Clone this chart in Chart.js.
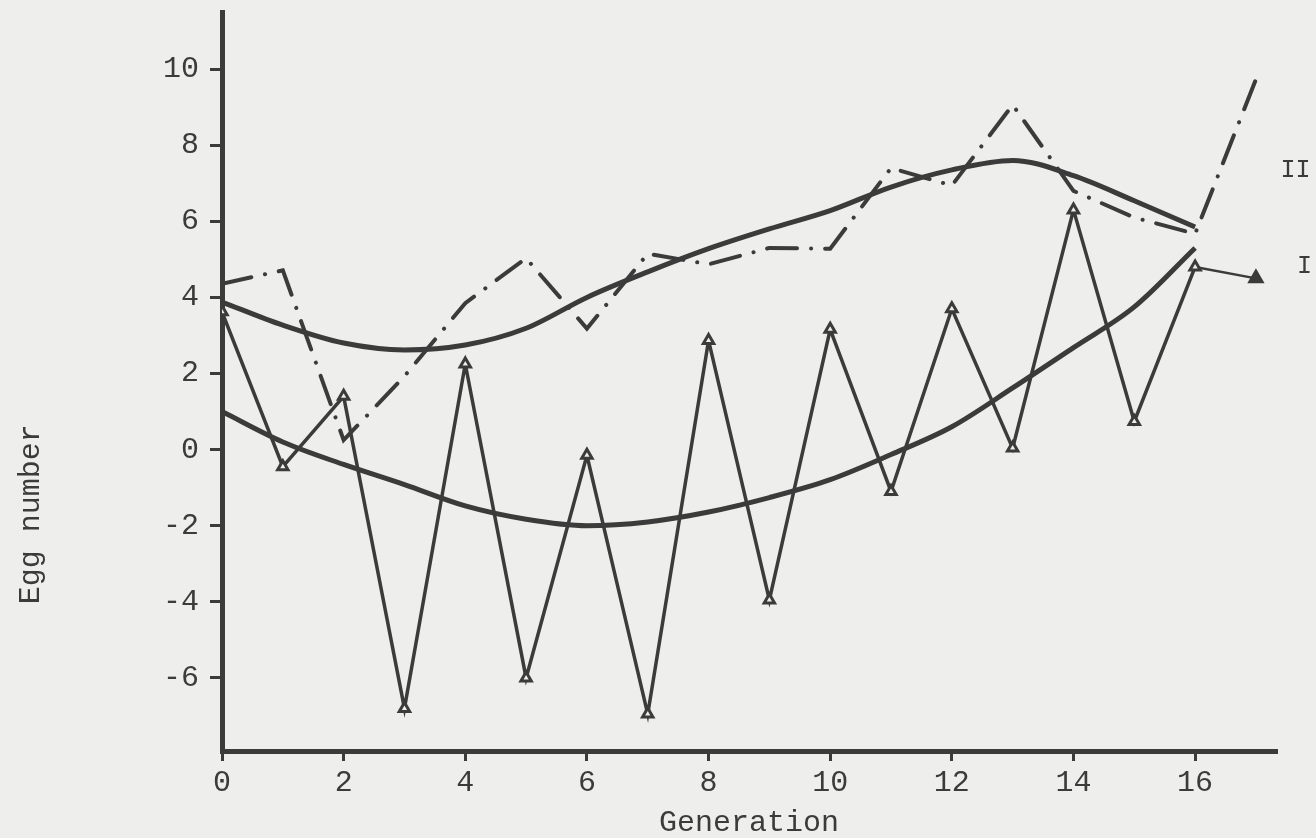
<!DOCTYPE html>
<html>
<head>
<meta charset="utf-8">
<script src="https://cdn.jsdelivr.net/npm/chart.js@4"></script>
<style>
  html, body { margin: 0; padding: 0; background: #eeeeec; }
  #wrap { width: 1316px; height: 838px; position: relative; }
</style>
</head>
<body>
<div id="wrap"><canvas id="chart" width="1316" height="838"></canvas></div>
<script>
// Generations on the x axis
const generations = [0, 1, 2, 3, 4, 5, 6, 7, 8, 9, 10, 11, 12, 13, 14, 15, 16];
const generationsII = [0, 1, 2, 3, 4, 5, 6, 7, 8, 9, 10, 11, 12, 13, 14, 15, 16, 17];

// Line I: observed egg numbers (open triangles)
const eggsI = [3.62, -0.45, 1.4, -6.8, 2.25, -6.0, -0.15, -6.95, 2.87, -3.95, 3.16, -1.1, 3.7, 0.04, 6.3, 0.74, 4.8];
// Line I: last generation (filled triangle)
const eggsIEndGens = [16, 17];
const eggsIEnd = [4.8, 4.5];

// Line II: observed egg numbers (dash-dot)
const eggsII = [4.36, 4.71, 0.25, 1.93, 3.85, 5.03, 3.18, 5.15, 4.87, 5.3, 5.28, 7.4, 6.94, 9.06, 6.8, 6.1, 5.67, 9.73];

// Fitted trends
const trendI = [1.0, 0.2, -0.39, -0.92, -1.48, -1.83, -2.0, -1.9, -1.64, -1.26, -0.79, -0.13, 0.6, 1.62, 2.68, 3.75, 5.3];
const trendII = [3.88, 3.27, 2.8, 2.62, 2.75, 3.19, 4.0, 4.67, 5.28, 5.8, 6.28, 6.9, 7.35, 7.6, 7.2, 6.54, 5.85];

// Tick labels
const xTickValues = [0, 2, 4, 6, 8, 10, 12, 14, 16];
const yTickValues = [-6, -4, -2, 0, 2, 4, 6, 8, 10];

// Line tags drawn at the right margin
const lineTags = [
  { text: 'II', gen: 17.65, value: 7.33 },
  { text: 'I', gen: 17.8, value: 4.82 }
];

const INK = '#3b3b3b';
const PAPER = '#eeeeec';
const FONT = "'Liberation Mono', 'DejaVu Sans Mono', monospace";

const pts = (xs, ys) => xs.map((x, i) => ({ x: x, y: ys[i] }));

const paperPlugin = {
  id: 'paper',
  beforeDraw(chart) {
    const ctx = chart.ctx;
    ctx.save();
    ctx.fillStyle = PAPER;
    ctx.fillRect(0, 0, chart.width, chart.height);
    ctx.restore();
  }
};

const textPlugin = {
  id: 'texts',
  afterDraw(chart) {
    const ctx = chart.ctx;
    const xs = chart.scales.x, ys = chart.scales.y;
    ctx.save();
    ctx.fillStyle = INK;
    ctx.textAlign = 'center';
    ctx.textBaseline = 'middle';
    ctx.font = '25px ' + FONT;
    lineTags.forEach(t => {
      ctx.fillText(t.text, xs.getPixelForValue(t.gen), ys.getPixelForValue(t.value));
    });
    // vertical axis title
    ctx.font = '30px ' + FONT;
    ctx.translate(31, ys.getPixelForValue(-1.7));
    ctx.rotate(-Math.PI / 2);
    ctx.fillText('Egg number', 0, 0);
    ctx.restore();
  }
};

new Chart(document.getElementById('chart'), {
  type: 'line',
  data: {
    datasets: [
      {
        label: 'Trend I',
        data: pts(generations, trendI),
        borderColor: INK,
        borderWidth: 5,
        pointRadius: 0,
        cubicInterpolationMode: 'monotone',
        fill: false
      },
      {
        label: 'Trend II',
        data: pts(generations, trendII),
        borderColor: INK,
        borderWidth: 5,
        pointRadius: 0,
        cubicInterpolationMode: 'monotone',
        fill: false
      },
      {
        label: 'II',
        data: pts(generationsII, eggsII),
        borderColor: INK,
        borderWidth: 4,
        borderDash: [30, 14, 0.1, 14],
        borderCapStyle: 'round',
        pointRadius: 0,
        tension: 0,
        fill: false
      },
      {
        label: 'I',
        data: pts(generations, eggsI),
        borderColor: INK,
        borderWidth: 3.5,
        tension: 0,
        pointStyle: 'triangle',
        pointRadius: 6,
        pointBorderWidth: 3,
        pointBorderColor: INK,
        pointBackgroundColor: PAPER,
        fill: false
      },
      {
        label: 'I last',
        data: pts(eggsIEndGens, eggsIEnd),
        borderColor: INK,
        borderWidth: 2.5,
        tension: 0,
        pointStyle: 'triangle',
        pointRadius: [0, 8],
        pointBorderWidth: 2,
        pointBorderColor: INK,
        pointBackgroundColor: INK,
        fill: false
      }
    ]
  },
  options: {
    responsive: false,
    animation: false,
    devicePixelRatio: 1,
    layout: { padding: { left: 0, right: 40, top: 12, bottom: 0 } },
    plugins: {
      legend: { display: false },
      tooltip: { enabled: false }
    },
    scales: {
      x: {
        type: 'linear',
        min: 0,
        max: 17.33,
        afterBuildTicks(scale) { scale.ticks = xTickValues.map(v => ({ value: v })); },
        afterFit(scale) {
          scale.height = 87;
          scale.paddingLeft = 0;
          scale.paddingRight = 0;
        },
        border: { display: true, color: INK, width: 5 },
        grid: { display: true, drawOnChartArea: false, drawTicks: true, tickLength: 10, color: INK, lineWidth: 3 },
        ticks: { color: INK, padding: 4, maxRotation: 0, autoSkip: false, font: { family: FONT, size: 30 } },
        title: {
          display: true,
          text: 'Generation',
          color: INK,
          padding: { top: 0, bottom: 0 },
          font: { family: FONT, size: 30, lineHeight: 1 }
        }
      },
      y: {
        type: 'linear',
        min: -7.92,
        max: 11.5,
        afterBuildTicks(scale) { scale.ticks = yTickValues.map(v => ({ value: v })); },
        afterFit(scale) {
          scale.width = 222;
          scale.paddingTop = 0;
          scale.paddingBottom = 0;
        },
        border: { display: true, color: INK, width: 5 },
        grid: { display: true, drawOnChartArea: false, drawTicks: true, tickLength: 12, color: INK, lineWidth: 3 },
        ticks: { color: INK, padding: 11, autoSkip: false, font: { family: FONT, size: 30 } }
      }
    }
  },
  plugins: [paperPlugin, textPlugin]
});
</script>
</body>
</html>
